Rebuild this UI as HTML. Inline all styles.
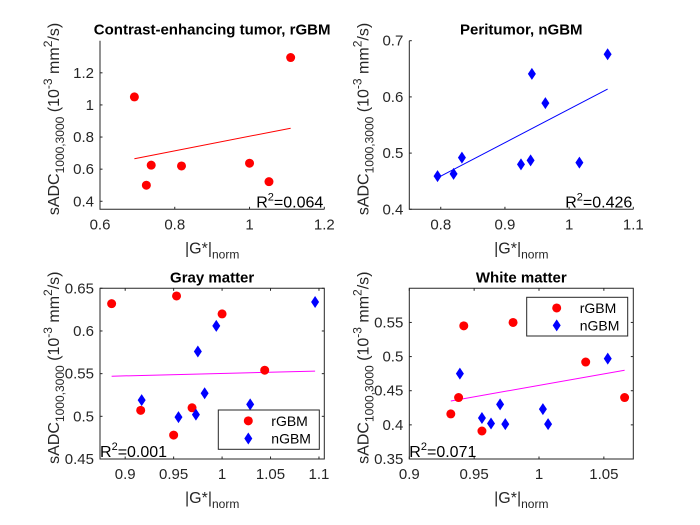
<!DOCTYPE html>
<html><head><meta charset="utf-8"><style>
body{margin:0;background:#fff;}
svg{display:block;font-family:"Liberation Sans",Arial,sans-serif;}
</style></head><body>
<svg id="fig" width="700" height="525" viewBox="0 0 700 525"></svg>
<script>
// ---- data ----
const p1X=[0.692,0.724,0.737,0.818,1.0,1.052,1.11];
const p1Y=[1.05,0.50,0.625,0.62,0.637,0.522,1.295];
const p1Fit=[[0.692,0.665],[1.11,0.855]];
const p1XTicks=[0.6,0.8,1,1.2];
const p1YTicks=[0.4,0.6,0.8,1,1.2];

const p2X=[0.795,0.82,0.833,0.925,0.94,0.942,0.963,1.016,1.06];
const p2Y=[0.459,0.463,0.492,0.48,0.487,0.641,0.589,0.483,0.676];
const p2Fit=[[0.795,0.456],[1.06,0.614]];
const p2XTicks=[0.8,0.9,1,1.1];
const p2YTicks=[0.4,0.5,0.6,0.7];

const p3RX=[0.886,0.916,0.950,0.953,0.969,1.0,1.044];
const p3RY=[0.632,0.507,0.478,0.641,0.510,0.620,0.554];
const p3BX=[0.917,0.955,0.973,0.975,0.982,0.994,1.029,1.096];
const p3BY=[0.519,0.499,0.502,0.576,0.527,0.606,0.514,0.634];
const p3Fit=[[0.886,0.547],[1.096,0.553]];
const p3XTicks=[0.9,0.95,1,1.05,1.1];
const p3YTicks=[0.45,0.5,0.55,0.6,0.65];

const p4RX=[0.932,0.938,0.942,0.956,0.98,1.036,1.066];
const p4RY=[0.416,0.440,0.545,0.391,0.550,0.492,0.440];
const p4BX=[0.939,0.956,0.963,0.97,0.974,1.003,1.007,1.053];
const p4BY=[0.475,0.410,0.402,0.430,0.401,0.423,0.401,0.497];
const p4Fit=[[0.932,0.435],[1.066,0.480]];
const p4XTicks=[0.9,0.95,1,1.05];
const p4YTicks=[0.35,0.4,0.45,0.5,0.55];

const NS="http://www.w3.org/2000/svg";
const svg=document.getElementById('fig');
function el(tag,attrs,parent,text){const e=document.createElementNS(NS,tag);for(const k in attrs)e.setAttribute(k,attrs[k]);if(text!==undefined)e.textContent=text;(parent||svg).appendChild(e);return e;}

function panel(cfg){
  const g=el('g',{});
  
  
  const L=cfg.box[0],R=cfg.box[1],T=cfg.box[2],B=cfg.box[3];
  const sx=v=>L+(v-cfg.xd[0])/(cfg.xd[1]-cfg.xd[0])*(R-L);
  const sy=v=>B-(v-cfg.yd[0])/(cfg.yd[1]-cfg.yd[0])*(B-T);
  const ax=el('path',{d:cfg.boxed?`M${L},${T}H${R}V${B}H${L}Z`:`M${L},${T}V${B}H${R}`,fill:'none',stroke:'#262626','stroke-width':1},g);
  
  
  cfg.xt.forEach(v=>{
    const x=sx(v);
    el('line',{x1:x,x2:x,y1:B,y2:B-2.5,stroke:'#262626'},g);
    if(cfg.boxed) el('line',{x1:x,x2:x,y1:T,y2:T+2.5,stroke:'#262626'},g);
    const t=el('text',{x:x,y:B+20,'text-anchor':'middle','font-size':15,fill:'#262626'},g,String(v));
    
    
  });
  cfg.yt.forEach(v=>{
    const y=sy(v);
    el('line',{x1:L,x2:L+2.5,y1:y,y2:y,stroke:'#262626'},g);
    if(cfg.boxed) el('line',{x1:R,x2:R-2.5,y1:y,y2:y,stroke:'#262626'},g);
    const t=el('text',{x:L-6,y:y+5,'text-anchor':'end','font-size':15,fill:'#262626'},g,String(v));
    
    
  });
  const ti=el('text',{x:(L+R)/2,y:T-6,'text-anchor':'middle','font-size':15,'font-weight':'bold',fill:'#000'},g,cfg.title);
  
  
  const xl=el('text',{x:(L+R)/2,y:B+44,'text-anchor':'middle','font-size':16,fill:'#262626'},g);
  
  
  el('tspan',{},xl,'|G*|');
  el('tspan',{'font-size':12,dy:5},xl,'norm');
  const cy=(T+B)/2-6, lx=L-41;
  const yl=el('text',{transform:`translate(${lx},${cy}) rotate(-90)`,'text-anchor':'middle','font-size':16,fill:'#262626'},g);
  
  
  el('tspan',{},yl,'sADC');
  el('tspan',{'font-size':12,dy:5},yl,'1000,3000');
  el('tspan',{dy:-5},yl,' (10');
  el('tspan',{'font-size':12,dy:-7},yl,'-3');
  el('tspan',{dy:7},yl,' mm');
  el('tspan',{'font-size':12,dy:-7},yl,'2');
  el('tspan',{dy:7},yl,'/s)');
  const f=cfg.fit;
  const fl=el('line',{x1:sx(f[0][0]),y1:sy(f[0][1]),x2:sx(f[1][0]),y2:sy(f[1][1]),stroke:cfg.fitColor,'stroke-width':1},g);
  
  
  if(cfg.rx) cfg.rx.forEach((v,i)=>{
    const c=el('circle',{cx:sx(v),cy:sy(cfg.ry[i]),r:4.5,fill:'#f00'},g);
    
    
  });
  if(cfg.bx) cfg.bx.forEach((v,i)=>{
    const x=sx(v),y=sy(cfg.by[i]);
    const d=el('path',{d:`M${x},${y-6}L${x+4},${y}L${x},${y+6}L${x-4},${y}Z`,fill:'#00f'},g);
    
    
  });
  const r=el('text',{x:cfg.r2left?L:R-1,y:B-2,'text-anchor':cfg.r2left?'start':'end','font-size':16,fill:'#000'},g);
  
  
  el('tspan',{},r,'R');
  el('tspan',{'font-size':11,dy:-7},r,'2');
  el('tspan',{dy:7},r,'='+cfg.r2);
  if(cfg.leg){
    const [lx0,ly0,lx1,ly1]=cfg.leg;
    const lg=el('g',{},g);
    
    
    el('rect',{x:lx0,y:ly0,width:lx1-lx0,height:ly1-ly0,fill:'#fff',stroke:'#262626','stroke-width':1},lg);
    const h=(ly1-ly0)/2;
    el('circle',{cx:lx0+30,cy:ly0+h/2+1,r:4.5,fill:'#f00'},lg);
    const t1=el('text',{x:lx0+53,y:ly0+h/2+6,'font-size':14,fill:'#000'},lg,'rGBM');
    
    
    const x=lx0+30,y=ly0+h*1.5-1;
    el('path',{d:`M${x},${y-6}L${x+4},${y}L${x},${y+6}L${x-4},${y}Z`,fill:'#00f'},lg);
    const t2=el('text',{x:lx0+53,y:y+5,'font-size':14,fill:'#000'},lg,'nGBM');
    
    
  }
}

panel({name:'panel-contrast-enhancing-tumor',box:[100,324.3,40.7,209.3],xd:[0.6,1.2],yd:[0.35,1.4],xt:p1XTicks,yt:p1YTicks,
  title:'Contrast-enhancing tumor, rGBM',fit:p1Fit,fitColor:'#f00',rx:p1X,ry:p1Y,r2:'0.064',boxed:false});
panel({name:'panel-peritumor',box:[409.3,633.3,40.7,209.3],xd:[0.751,1.1],yd:[0.4,0.7],xt:p2XTicks,yt:p2YTicks,
  title:'Peritumor, nGBM',fit:p2Fit,fitColor:'#00f',bx:p2X,by:p2Y,r2:'0.426',boxed:false});
panel({name:'panel-gray-matter',box:[100,324.3,288.3,459],xd:[0.874,1.1055],yd:[0.45,0.65],xt:p3XTicks,yt:p3YTicks,
  title:'Gray matter',fit:p3Fit,fitColor:'#f0f',rx:p3RX,ry:p3RY,bx:p3BX,by:p3BY,r2:'0.001',r2left:true,boxed:true,leg:[218.3,410,319.3,449.3]});
panel({name:'panel-white-matter',box:[409.3,633.3,288.3,459],xd:[0.9,1.0727],yd:[0.35,0.6],xt:p4XTicks,yt:p4YTicks,
  title:'White matter',fit:p4Fit,fitColor:'#f0f',rx:p4RX,ry:p4RY,bx:p4BX,by:p4BY,r2:'0.071',r2left:true,boxed:true,leg:[526.7,297.3,627.7,336]});
</script>
</body></html>
